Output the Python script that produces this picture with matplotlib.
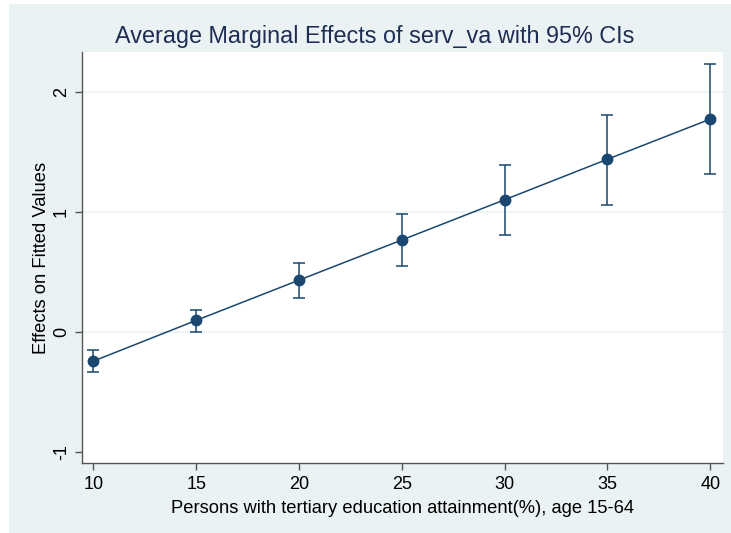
import matplotlib.pyplot as plt
from matplotlib.patches import Rectangle

# marginal effects of serv_va at each level of tertiary attainment
attain = [10, 15, 20, 25, 30, 35, 40]
effect = [-0.242, 0.097, 0.432, 0.766, 1.101, 1.438, 1.772]
ci_low = [-0.330, 0.003, 0.287, 0.548, 0.808, 1.061, 1.318]
ci_high = [-0.152, 0.184, 0.578, 0.984, 1.394, 1.808, 2.228]

xticks = [10, 15, 20, 25, 30, 35, 40]
yticks = [-1, 0, 1, 2]
grid_at = [0, 1, 2]

navy = "#1a476f"
bg = "#eaf2f3"
title_col = "#1e2d53"

plt.rcParams['font.family'] = ['Liberation Sans', 'DejaVu Sans']

fig = plt.figure(figsize=(7.31, 5.33), dpi=100)
fig.patch.set_facecolor("white")
fig.patches.append(Rectangle((9 / 731, 0), 1, 529 / 533, transform=fig.transFigure,
                             facecolor=bg, edgecolor="none", zorder=-10))

ax = fig.add_axes([82.3 / 731, 69.7 / 533, (723 - 82.3) / 731, (463.3 - 51.7) / 533])
ax.set_facecolor("white")

for g in grid_at:
    ax.axhline(g, color=bg, lw=1.2, zorder=0)

yerr = [[e - lo for e, lo in zip(effect, ci_low)],
        [hi - e for e, hi in zip(effect, ci_high)]]
ax.errorbar(attain, effect, yerr=yerr, fmt="none", ecolor=navy, elinewidth=1.1,
            capsize=4, capthick=1.1, zorder=2)
ax.plot(attain, effect, color=navy, lw=1.1, marker="o", ms=7.5,
        mfc=navy, mec=navy, zorder=3)

ax.set_xlim(9.465, 40.62)
ax.set_ylim(-1.092, 2.333)
ax.set_xticks(xticks)
ax.set_yticks(yticks)
ax.set_yticklabels([str(t) for t in yticks], rotation=90, va="center")

for s in ["top", "right"]:
    ax.spines[s].set_visible(False)
for s in ["left", "bottom"]:
    ax.spines[s].set_color("#555555")
    ax.spines[s].set_linewidth(1.0)
ax.tick_params(axis="both", length=5, width=1.0, color="#555555",
               labelsize=13, labelcolor="black", pad=4)

ax.set_xlabel("Persons with tertiary education attainment(%), age 15-64", fontsize=13.2, labelpad=5)
ax.set_ylabel("Effects on Fitted Values", fontsize=13.2, labelpad=2)

fig.text(375 / 731, 1 - 37 / 533, "Average Marginal Effects of serv_va with 95% CIs",
         ha="center", va="center", fontsize=16.8, color=title_col)

fig.savefig("out.png", dpi=100)
